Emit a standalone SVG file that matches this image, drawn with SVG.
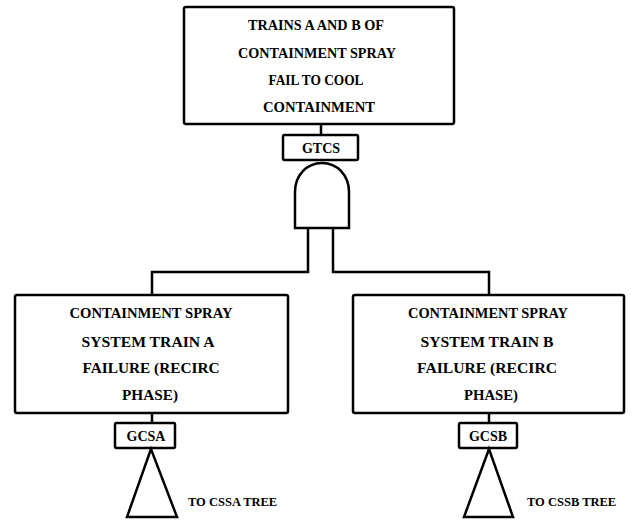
<svg xmlns="http://www.w3.org/2000/svg" width="631" height="527" viewBox="0 0 631 527">
  <style>
    .box { fill: #fff; stroke: #000; stroke-width: 2.5; }
    .wire { fill: none; stroke: #000; stroke-width: 2.5; }
    .t { font-family: "Liberation Serif", "Times New Roman", serif; font-weight: bold; font-size: 15px; text-anchor: middle; fill: #000; }
    .id { font-family: "Liberation Serif", "Times New Roman", serif; font-weight: bold; font-size: 14px; text-anchor: middle; fill: #000; }
    .lbl { font-family: "Liberation Serif", "Times New Roman", serif; font-weight: bold; font-size: 12.5px; fill: #000; }
  </style>
  <rect width="631" height="527" fill="#fff"/>

  <!-- connectors -->
  <g id="connectors" class="wire">
    <line x1="321" y1="124" x2="321" y2="135"/>
    <polyline points="308,228 308,272 152,272 152,295"/>
    <polyline points="333,228 333,272 489,272 489,295"/>
    <line x1="152" y1="413" x2="152" y2="423"/>
    <line x1="489" y1="413" x2="489" y2="423"/>
  </g>

  <!-- top event -->
  <g id="top-event">
    <rect class="box" x="184" y="7" width="270" height="117" rx="2"/>
    <text class="t" x="316" y="30" textLength="136" lengthAdjust="spacingAndGlyphs">TRAINS A AND B OF</text>
    <text class="t" x="317" y="58" textLength="158" lengthAdjust="spacingAndGlyphs">CONTAINMENT SPRAY</text>
    <text class="t" x="316" y="85" textLength="95" lengthAdjust="spacingAndGlyphs">FAIL TO COOL</text>
    <text class="t" x="319" y="112" textLength="112" lengthAdjust="spacingAndGlyphs">CONTAINMENT</text>
  </g>

  <g id="gtcs">
    <rect class="box" x="283" y="135" width="75" height="25" rx="1.5"/>
    <text class="id" x="321" y="152.5">GTCS</text>
  </g>

  <!-- AND gate -->
  <g id="and-gate">
    <path class="box" d="M295,228 L295,192 C295,175 307,163 322,163 C337,163 349,175 349,192 L349,228 Z"/>
  </g>

  <!-- train A -->
  <g id="train-a">
    <rect class="box" x="15" y="295" width="273" height="118" rx="2"/>
    <text class="t" x="151" y="318" textLength="163" lengthAdjust="spacingAndGlyphs">CONTAINMENT SPRAY</text>
    <text class="t" x="148" y="347" textLength="133" lengthAdjust="spacingAndGlyphs">SYSTEM TRAIN A</text>
    <text class="t" x="151" y="373" textLength="137" lengthAdjust="spacingAndGlyphs">FAILURE (RECIRC</text>
    <text class="t" x="150" y="400" textLength="56" lengthAdjust="spacingAndGlyphs">PHASE)</text>
  </g>

  <g id="gcsa">
    <rect class="box" x="115" y="423" width="60" height="25" rx="1.5"/>
    <text class="id" x="146" y="440.5">GCSA</text>
  </g>

  <g id="transfer-a">
    <polygon class="box" points="151,449 127,517 177,517"/>
    <text class="lbl" x="188" y="506">TO CSSA TREE</text>
  </g>

  <!-- train B -->
  <g id="train-b">
    <rect class="box" x="353" y="295" width="271" height="118" rx="2"/>
    <text class="t" x="488" y="318" textLength="160" lengthAdjust="spacingAndGlyphs">CONTAINMENT SPRAY</text>
    <text class="t" x="487" y="347" textLength="133" lengthAdjust="spacingAndGlyphs">SYSTEM TRAIN B</text>
    <text class="t" x="487" y="373" textLength="140" lengthAdjust="spacingAndGlyphs">FAILURE (RECIRC</text>
    <text class="t" x="491" y="400" textLength="54" lengthAdjust="spacingAndGlyphs">PHASE)</text>
  </g>

  <g id="gcsb">
    <rect class="box" x="459" y="423" width="58" height="25" rx="1.5"/>
    <text class="id" x="488" y="440.5">GCSB</text>
  </g>

  <g id="transfer-b">
    <polygon class="box" points="489,449 464,517 513,517"/>
    <text class="lbl" x="527" y="506">TO CSSB TREE</text>
  </g>
</svg>
